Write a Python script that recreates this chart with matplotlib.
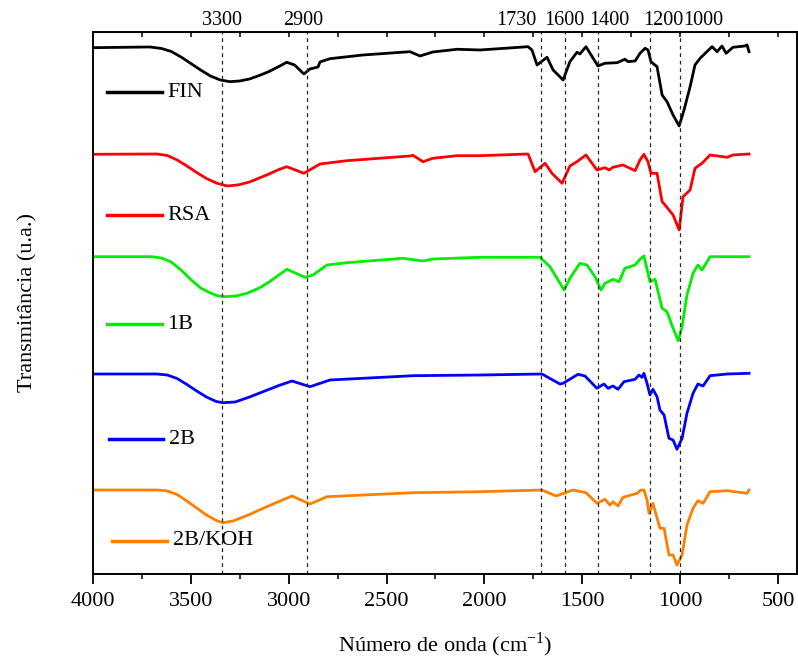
import matplotlib
matplotlib.use("Agg")
import matplotlib.pyplot as plt
from matplotlib.ticker import MultipleLocator

plt.rcParams['font.family'] = ['Liberation Serif', 'DejaVu Serif']
plt.rcParams['mathtext.fontset'] = 'custom'
plt.rcParams['mathtext.rm'] = 'Liberation Serif'

# --- spectra (wavenumber, transmittance a.u., offset curves) ---
fin_w = [4000, 3709, 3650, 3600, 3550, 3500, 3450, 3400, 3350, 3300, 3250, 3200, 3150, 3100,
         3050, 3010, 2970, 2922, 2891, 2850, 2840, 2789, 2620, 2380, 2329, 2263, 2140, 2022,
         1777, 1757, 1731, 1680, 1649, 1598, 1563, 1527, 1512, 1481, 1420, 1384, 1322, 1282,
         1266, 1230, 1205, 1179, 1164, 1149, 1118, 1092, 1067, 1036, 1005, 980, 949, 924, 898,
         837, 811, 786, 765, 730, 668, 658, 648]
fin_t = [5.263, 5.27, 5.255, 5.225, 5.17, 5.105, 5.04, 4.98, 4.94, 4.923, 4.93, 4.95, 4.985, 5.025,
         5.075, 5.117, 5.09, 5.00, 5.05, 5.07, 5.12, 5.153, 5.19, 5.223, 5.18, 5.22, 5.247, 5.24,
         5.273, 5.24, 5.09, 5.167, 5.04, 4.94, 5.123, 5.217, 5.20, 5.273, 5.08, 5.107, 5.113, 5.147,
         5.123, 5.13, 5.207, 5.257, 5.24, 5.123, 5.073, 4.79, 4.723, 4.59, 4.48, 4.64, 4.873, 5.09, 5.157,
         5.273, 5.223, 5.28, 5.207, 5.267, 5.28, 5.29, 5.223]

rsa_w = [4000, 3673, 3620, 3570, 3520, 3470, 3420, 3370, 3315, 3260, 3200, 3150, 3100, 3050,
         3010, 2922, 2840, 2702, 2380, 2365, 2314, 2263, 2140, 2022, 1777, 1741, 1690, 1655,
         1603, 1563, 1527, 1481, 1425, 1384, 1363, 1343, 1292, 1230, 1205, 1185, 1164, 1149,
         1118, 1092, 1077, 1036, 1005, 985, 949, 924, 888, 847, 760, 730, 648]
rsa_t = [4.197, 4.20, 4.185, 4.14, 4.08, 4.015, 3.955, 3.91, 3.88, 3.89, 3.92, 3.96, 4.00, 4.045,
         4.073, 4.007, 4.10, 4.133, 4.18, 4.187, 4.123, 4.157, 4.183, 4.183, 4.20, 4.023, 4.107, 4.007,
         3.907, 4.08, 4.123, 4.19, 4.04, 4.063, 4.04, 4.067, 4.09, 4.033, 4.14, 4.197, 4.123, 4.007,
         4.007, 3.723, 3.69, 3.59, 3.44, 3.773, 3.84, 4.057, 4.107, 4.19, 4.167, 4.19, 4.20]

b1_w = [4000, 3699, 3650, 3600, 3550, 3500, 3450, 3400, 3360, 3326, 3270, 3213, 3150, 3100,
        3050, 3009, 2917, 2876, 2804, 2702, 2416, 2314, 2263, 2022, 1716, 1665, 1593, 1563,
        1512, 1476, 1435, 1404, 1384, 1343, 1312, 1282, 1230, 1205, 1185, 1154, 1128, 1092,
        1067, 1036, 1010, 990, 965, 934, 909, 888, 847, 648]
b1_t = [3.173, 3.173, 3.16, 3.12, 3.04, 2.945, 2.86, 2.81, 2.78, 2.773, 2.78, 2.807, 2.86, 2.92,
        2.99, 3.047, 2.967, 2.99, 3.09, 3.113, 3.157, 3.13, 3.15, 3.167, 3.167, 3.073, 2.84, 2.957,
        3.107, 3.09, 2.973, 2.84, 2.907, 2.947, 2.923, 3.057, 3.09, 3.147, 3.18, 2.923, 2.947, 2.657,
        2.623, 2.457, 2.333, 2.473, 2.79, 3.007, 3.09, 3.04, 3.173, 3.173]

b2_w = [4000, 3673, 3620, 3570, 3520, 3470, 3420, 3370, 3336, 3274, 3200, 3131, 3050, 2983,
        2891, 2789, 2365, 2022, 1706, 1614, 1598, 1522, 1486, 1425, 1389, 1368, 1343, 1317,
        1287, 1230, 1210, 1195, 1185, 1169, 1154, 1139, 1118, 1103, 1082, 1057, 1036, 1016,
        990, 965, 934, 909, 883, 847, 760, 648]
b2_t = [2.00, 2.00, 1.99, 1.955, 1.895, 1.83, 1.77, 1.725, 1.713, 1.72, 1.77, 1.823, 1.885, 1.93,
        1.873, 1.94, 1.983, 1.99, 2.00, 1.90, 1.907, 1.997, 1.98, 1.857, 1.90, 1.857, 1.88, 1.847,
        1.923, 1.947, 1.99, 1.967, 2.007, 1.907, 1.79, 1.847, 1.773, 1.64, 1.59, 1.357, 1.34, 1.247,
        1.357, 1.607, 1.807, 1.90, 1.88, 1.983, 2.00, 2.007]

koh_w = [4000, 3668, 3620, 3570, 3520, 3470, 3420, 3370, 3336, 3285, 3200, 3131, 3050, 2983,
         2891, 2804, 2365, 2022, 1706, 1634, 1547, 1481, 1425, 1384, 1358, 1343, 1317, 1292,
         1220, 1200, 1185, 1169, 1159, 1139, 1103, 1082, 1057, 1036, 1016, 990, 965, 934, 909,
         883, 847, 760, 658, 648]
koh_t = [0.84, 0.84, 0.83, 0.795, 0.73, 0.66, 0.59, 0.535, 0.513, 0.53, 0.595, 0.657, 0.725, 0.78,
         0.70, 0.773, 0.813, 0.823, 0.84, 0.78, 0.84, 0.813, 0.707, 0.747, 0.69, 0.723, 0.68, 0.767,
         0.807, 0.84, 0.84, 0.74, 0.607, 0.707, 0.457, 0.457, 0.19, 0.19, 0.09, 0.19, 0.49, 0.657, 0.733,
         0.707, 0.823, 0.833, 0.807, 0.84]

names = ['FIN', 'RSA', '1B', '2B', '2B/KOH']
colors = ['black', '#ff0000', '#00ee00', '#0000ff', '#ff8000']
waves = [fin_w, rsa_w, b1_w, b2_w, koh_w]
trans = [fin_t, rsa_t, b1_t, b2_t, koh_t]

# band markers (dashed lines) and their top labels
band_pos = [3340, 2907, 1711, 1588, 1420, 1154, 1000]
band_labels = ['3300', '2900', '1730', '1600', '1400', '1200', '1000']
label_pos = [3341, 2927, 1838, 1593, 1363, 1087, 883]

# label placement next to each curve (axes fraction)
lab_y = [0.889, 0.662, 0.461, 0.2485, 0.061]
lab_x0 = [0.020, 0.020, 0.020, 0.023, 0.027]
lab_x1 = [0.098, 0.098, 0.098, 0.100, 0.105]

fig = plt.figure(figsize=(7.98, 6.62), dpi=100)
ax = fig.add_axes([0.1165, 0.1329, 0.8822, 0.8188])

for w, t, c in zip(waves, trans, colors):
    ax.plot(w, t, color=c, lw=2)

for b in band_pos:
    ax.axvline(b, color='0.15', lw=0.9, dashes=(3, 3))

for lp, lt in zip(label_pos, band_labels):
    ax.text(lp, 1.004, lt, transform=ax.get_xaxis_transform(), ha='center', va='bottom',
            fontsize=14.5)

for n, c, y, x0, x1 in zip(names, colors, lab_y, lab_x0, lab_x1):
    ax.plot([x0, x1], [y, y], color=c, lw=2.5, transform=ax.transAxes)
    ax.text(x1 + 0.008, y, n, transform=ax.transAxes, ha='left', va='center', fontsize=16)

ax.set_xlim(4000, 403)
ax.set_ylim(0, 5.42)
ax.xaxis.set_major_locator(MultipleLocator(500))
ax.xaxis.set_minor_locator(MultipleLocator(250))
ax.set_yticks([])
ax.tick_params(axis='x', which='major', direction='out', length=7, width=1.3, labelsize=16, pad=6)
ax.tick_params(axis='x', which='minor', direction='out', length=3.5, width=1.1)
for s in ax.spines.values():
    s.set_linewidth(1.4)

# top minor ticks point inward
ax2 = ax.secondary_xaxis('top')
ax2.xaxis.set_major_locator(MultipleLocator(250))
ax2.tick_params(direction='in', length=3.5, width=1.1, labeltop=False)

ax.set_xlabel('Número de onda (cm$^{-1}$)', fontsize=16, labelpad=14)
ax.set_ylabel('Transmitância (u.a.)', fontsize=16, labelpad=40)

fig.savefig('out.png', dpi=100)
